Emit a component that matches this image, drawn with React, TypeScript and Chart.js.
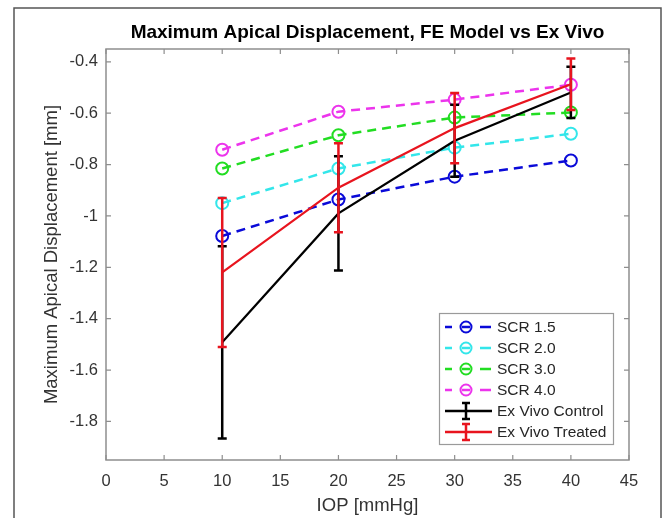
import React, { useEffect, useRef } from "react";
import { Chart, registerables } from "chart.js";

Chart.register(...registerables);

const IOP = [10, 20, 30, 40];
const SCR15 = [-1.078, -0.936, -0.847, -0.784];
const SCR20 = [-0.95, -0.815, -0.734, -0.68];
const SCR30 = [-0.815, -0.686, -0.617, -0.597];
const SCR40 = [-0.742, -0.594, -0.547, -0.489];
const CONTROL_MEAN = [-1.492, -0.99, -0.707, -0.519];
const CONTROL_ERR = [0.374, 0.222, 0.14, 0.1];
const TREATED_MEAN = [-1.22, -0.89, -0.658, -0.487];
const TREATED_ERR = [0.29, 0.173, 0.137, 0.1];

const X_TICKS = [0, 5, 10, 15, 20, 25, 30, 35, 40, 45];
const Y_TICKS = [-1.8, -1.6, -1.4, -1.2, -1, -0.8, -0.6, -0.4];

const TITLE = "Maximum Apical Displacement, FE Model vs Ex Vivo";
const X_TITLE = "IOP [mmHg]";
const Y_TITLE = "Maximum Apical Displacement [mm]";

const FONT = "'Liberation Sans', Arial, Helvetica, sans-serif";

const C_BLUE = "#0a0ad8";
const C_CYAN = "#33e6ea";
const C_GREEN = "#22dd22";
const C_MAGENTA = "#ec34ec";
const C_BLACK = "#000000";
const C_RED = "#e8141e";

type LegendItem = { label: string; color: string; kind: "dash" | "err" };

const LEGEND: LegendItem[] = [
  { label: "SCR 1.5", color: C_BLUE, kind: "dash" },
  { label: "SCR 2.0", color: C_CYAN, kind: "dash" },
  { label: "SCR 3.0", color: C_GREEN, kind: "dash" },
  { label: "SCR 4.0", color: C_MAGENTA, kind: "dash" },
  { label: "Ex Vivo Control", color: C_BLACK, kind: "err" },
  { label: "Ex Vivo Treated", color: C_RED, kind: "err" },
];

function pts(ys: number[]) {
  return IOP.map((x, i) => ({ x, y: ys[i] }));
}

const decorPlugin = {
  id: "decor",
  beforeDatasetsDraw(chart: any) {
    const { ctx, chartArea } = chart;
    const { left, right, top, bottom } = chartArea;
    const xs = chart.scales.x;
    const ys = chart.scales.y;
    ctx.save();
    ctx.strokeStyle = "#8e8e8e";
    ctx.lineWidth = 1.5;
    ctx.strokeRect(left, top, right - left, bottom - top);
    ctx.lineWidth = 1.2;
    ctx.beginPath();
    X_TICKS.forEach((v) => {
      const px = xs.getPixelForValue(v);
      ctx.moveTo(px, bottom);
      ctx.lineTo(px, bottom - 5);
      ctx.moveTo(px, top);
      ctx.lineTo(px, top + 5);
    });
    Y_TICKS.forEach((v) => {
      const py = ys.getPixelForValue(v);
      ctx.moveTo(left, py);
      ctx.lineTo(left + 5, py);
      ctx.moveTo(right, py);
      ctx.lineTo(right - 5, py);
    });
    ctx.stroke();
    ctx.restore();
  },
  afterDatasetDraw(chart: any, args: any) {
    const ds = chart.data.datasets[args.index];
    if (!ds.errors) return;
    const { ctx } = chart;
    const xs = chart.scales.x;
    const ys = chart.scales.y;
    ctx.save();
    ctx.strokeStyle = ds.borderColor;
    ctx.lineWidth = 2.5;
    ctx.setLineDash([]);
    ctx.beginPath();
    ds.data.forEach((p: any, i: number) => {
      const e = ds.errors[i];
      const px = xs.getPixelForValue(p.x);
      const y1 = ys.getPixelForValue(p.y + e);
      const y2 = ys.getPixelForValue(p.y - e);
      ctx.moveTo(px, y1);
      ctx.lineTo(px, y2);
      ctx.moveTo(px - 4.5, y1);
      ctx.lineTo(px + 4.5, y1);
      ctx.moveTo(px - 4.5, y2);
      ctx.lineTo(px + 4.5, y2);
    });
    ctx.stroke();
    ctx.restore();
  },
  afterDraw(chart: any) {
    const { ctx, chartArea } = chart;
    const { left, right, top, bottom } = chartArea;
    const cx = (left + right) / 2;
    ctx.save();
    // outer frame
    ctx.strokeStyle = "#555555";
    ctx.lineWidth = 1.5;
    ctx.beginPath();
    ctx.moveTo(14, 518);
    ctx.lineTo(14, 8);
    ctx.lineTo(661, 8);
    ctx.lineTo(661, 518);
    ctx.stroke();

    // title
    ctx.fillStyle = "#000";
    ctx.textAlign = "center";
    ctx.textBaseline = "middle";
    ctx.font = `bold 19px ${FONT}`;
    ctx.fillText(TITLE, cx, 33);

    // axis titles
    ctx.fillStyle = "#333";
    ctx.font = `18.5px ${FONT}`;
    ctx.fillText(X_TITLE, cx, 506);
    ctx.save();
    ctx.translate(52, (top + bottom) / 2);
    ctx.rotate(-Math.PI / 2);
    ctx.fillText(Y_TITLE, 0, 0);
    ctx.restore();

    // legend
    const lx = 439.5, ly = 313.5, lw = 174, lh = 131;
    ctx.fillStyle = "#fff";
    ctx.fillRect(lx, ly, lw, lh);
    ctx.strokeStyle = "#9a9a9a";
    ctx.lineWidth = 1.2;
    ctx.strokeRect(lx, ly, lw, lh);
    LEGEND.forEach((it, i) => {
      const y = 327 + i * 21;
      ctx.strokeStyle = it.color;
      ctx.setLineDash([]);
      if (it.kind === "dash") {
        ctx.lineWidth = 2.5;
        ctx.beginPath();
        ctx.moveTo(445, y);
        ctx.lineTo(452, y);
        ctx.moveTo(462, y);
        ctx.lineTo(470, y);
        ctx.moveTo(480, y);
        ctx.lineTo(491, y);
        ctx.stroke();
        ctx.lineWidth = 2;
        ctx.beginPath();
        ctx.arc(466, y, 5.5, 0, Math.PI * 2);
        ctx.stroke();
      } else {
        ctx.lineWidth = 2.5;
        ctx.beginPath();
        ctx.moveTo(445, y);
        ctx.lineTo(492, y);
        ctx.moveTo(466, y - 8);
        ctx.lineTo(466, y + 8);
        ctx.moveTo(462, y - 8);
        ctx.lineTo(470, y - 8);
        ctx.moveTo(462, y + 8);
        ctx.lineTo(470, y + 8);
        ctx.stroke();
      }
      ctx.fillStyle = "#262626";
      ctx.font = `15.5px ${FONT}`;
      ctx.textAlign = "left";
      ctx.textBaseline = "middle";
      ctx.fillText(it.label, 497, y + 1);
    });
    ctx.restore();
  },
};

function dashed(label: string, ys: number[], color: string, order: number) {
  return {
    label,
    data: pts(ys),
    borderColor: color,
    backgroundColor: "rgba(0,0,0,0)",
    borderWidth: 2.5,
    borderDash: [9, 6],
    pointRadius: 6,
    pointBorderWidth: 2,
    pointBorderColor: color,
    pointBackgroundColor: "rgba(255,255,255,0)",
    pointStyle: "circle",
    tension: 0,
    order,
  };
}

function solid(label: string, ys: number[], errs: number[], color: string, order: number) {
  return {
    label,
    data: pts(ys),
    errors: errs,
    borderColor: color,
    backgroundColor: "rgba(0,0,0,0)",
    borderWidth: 2.2,
    pointRadius: 0,
    tension: 0,
    order,
  };
}

export default function App() {
  const ref = useRef<HTMLCanvasElement | null>(null);
  useEffect(() => {
    document.body.style.margin = "0";
    const canvas = ref.current;
    if (!canvas) return;
    const tickFont = { family: FONT, size: 16.5 };
    const chart = new Chart(canvas, {
      type: "line",
      data: {
        datasets: [
          dashed("SCR 1.5", SCR15, C_BLUE, 5),
          dashed("SCR 2.0", SCR20, C_CYAN, 4),
          dashed("SCR 3.0", SCR30, C_GREEN, 3),
          dashed("SCR 4.0", SCR40, C_MAGENTA, 2),
          solid("Ex Vivo Control", CONTROL_MEAN, CONTROL_ERR, C_BLACK, 1),
          solid("Ex Vivo Treated", TREATED_MEAN, TREATED_ERR, C_RED, 0),
        ] as any,
      },
      options: {
        animation: false,
        responsive: false,
        devicePixelRatio: 1,
        layout: { padding: { top: 49, right: 40, left: 0, bottom: 0 } },
        plugins: {
          legend: { display: false },
          title: { display: false },
          tooltip: { enabled: false },
        },
        scales: {
          x: {
            type: "linear",
            min: 0,
            max: 45,
            afterBuildTicks: (s: any) => {
              s.ticks = X_TICKS.map((v) => ({ value: v }));
            },
            afterFit: (s: any) => {
              s.height = 58;
            },
            grid: { display: false, drawTicks: false },
            border: { display: false },
            ticks: {
              padding: 12,
              font: tickFont,
              color: "#333",
              maxRotation: 0,
              autoSkip: false,
              callback: (v: any) => String(v),
            },
          },
          y: {
            type: "linear",
            min: -1.95,
            max: -0.35,
            afterBuildTicks: (s: any) => {
              s.ticks = Y_TICKS.map((v) => ({ value: v }));
            },
            afterFit: (s: any) => {
              s.width = 106;
            },
            grid: { display: false, drawTicks: false },
            border: { display: false },
            ticks: {
              padding: 8,
              font: tickFont,
              color: "#333",
              autoSkip: false,
              callback: (v: any) => String(Number(Number(v).toFixed(1))),
            },
          },
        },
      } as any,
      plugins: [decorPlugin as any],
    });
    return () => chart.destroy();
  }, []);
  return (
    <div style={{ position: "absolute", left: 0, top: 0, width: 669, height: 518, background: "#fff" }}>
      <canvas ref={ref} width={669} height={518} style={{ display: "block", width: 669, height: 518 }} />
    </div>
  );
}
